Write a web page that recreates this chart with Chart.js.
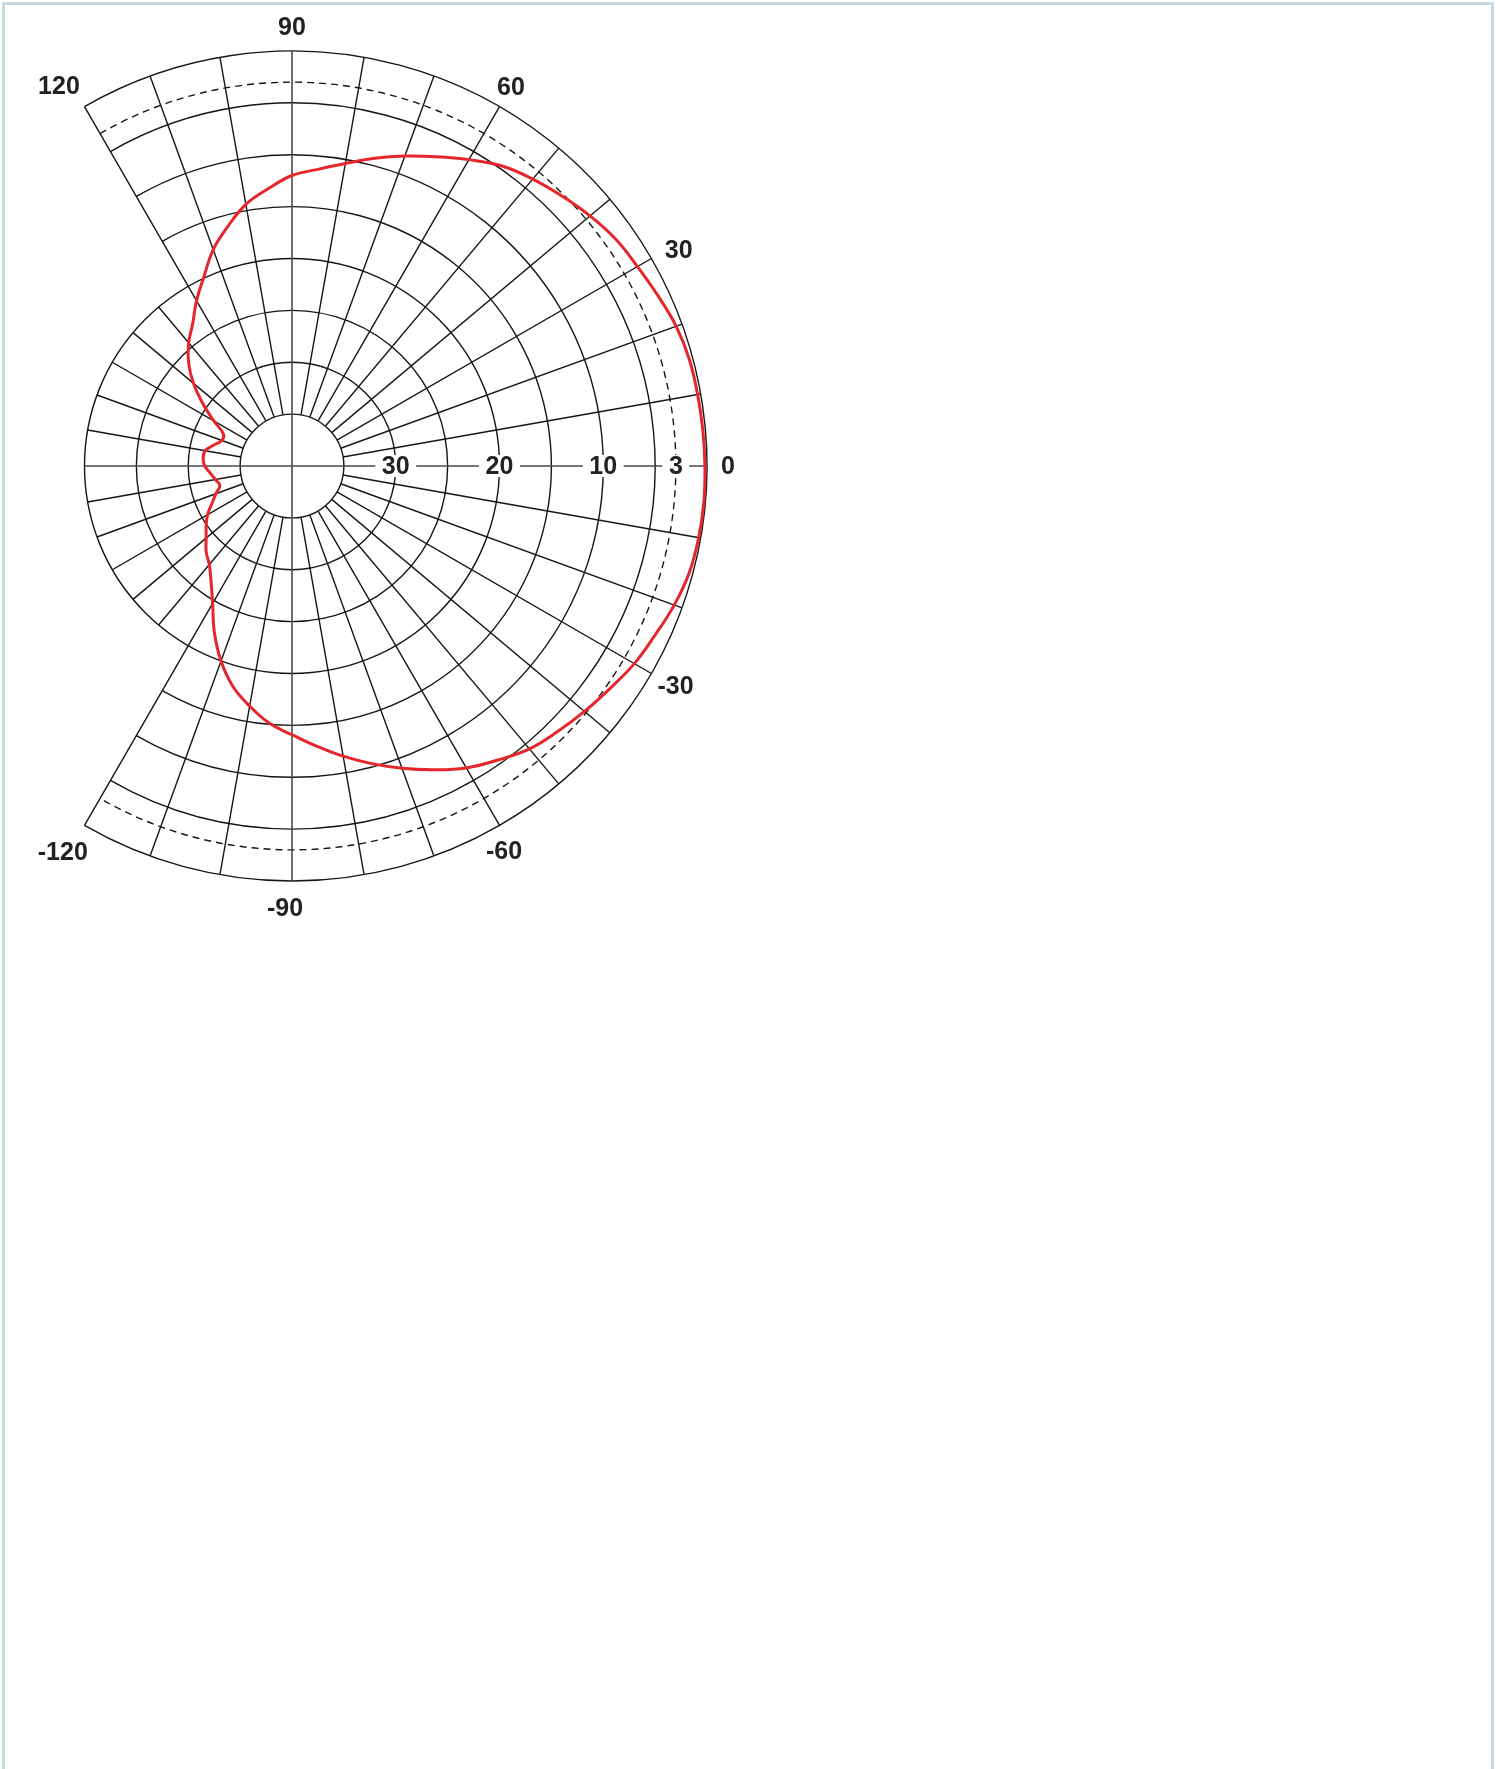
<!DOCTYPE html>
<html lang="en">
<head>
  <meta charset="UTF-8" />
  <title>Radiation pattern</title>
  <script src="https://cdn.jsdelivr.net/npm/chart.js"></script>
</head>
<style>
    html, body {
      margin: 0;
      background: #fff;
      overflow: hidden;
    }
    .frame {
      position: absolute;
      left: 2px;
      top: 2px;
      width: 1486px;
      height: 1800px;
      border: 3px solid #c9d7e0;
    }
    /* chart area is 830x830 (radius 415) centred on the pole at 292,466 */
    .wrap {
      position: absolute;
      left: -193px;
      top: -19px;
      width: 970px;
      height: 970px;
    }
  </style>
<body>
  <div class="frame"></div>
  <div class="wrap"><canvas id="grafico"></canvas></div>
  <script>
    // angle in degrees (0 = boresight, +90 up), listed clockwise from 0
    const angulos = [0, -5, -10, -15, -20, -25, -30, -35, -40, -45, -50, -55,
      -60, -65, -70, -75, -80, -85, -90, -95, -100, -105, -110, -115,
      -120, -125, -130, -135, -140, -145, -150, -155, -160, -165, -170, -175,
      180, 175, 170, 165, 160, 155, 150, 145, 140, 135, 130, 125,
      120, 115, 110, 105, 100, 95, 90, 85, 80, 75, 70, 65,
      60, 55, 50, 45, 40, 35, 30, 25, 20, 15, 10, 5];

    // relative gain in dB, same order as angulos
    const ganho = [-0.2, -0.15, -0.2, -0.35, -0.8, -1.4, -1.9, -2.6, -3.2, -3.8, -4.4, -5.4,
      -6.4, -7.7, -9.0, -10.3, -11.6, -12.9, -14.1, -15.1, -16.5, -18.0, -20.0, -22.3,
      -24.7, -26.4, -27.6, -28.3, -29.2, -29.9, -30.6, -31.5, -32.2, -32.8, -32.5, -32.1,
      -31.6, -31.4, -31.5, -32.2, -32.8, -32.7, -31.3, -29.5, -27.6, -25.9, -24.5, -23.3,
      -21.6, -19.9, -17.8, -16.1, -14.4, -13.2, -12.0, -11.3, -10.4, -9.3, -8.2, -7.1,
      -5.9, -4.7, -3.9, -3.2, -2.5, -1.9, -1.55, -1.1, -0.6, -0.35, -0.3, -0.25];

    const aneisFrente = [0, -5, -10, -15];       // only from -120 to 120
    const aneisCompletos = [-20, -25, -30, -35]; // full circles
    const anelTracejado = -3;
    const ticksRaio = [-30, -20, -10, -3];
    const rotulosAngulo = [90, 60, 30, 0, -30, -60, -90, -120, 120];

    const fonte = 'bold 25px "Liberation Sans", Arial, sans-serif';
    // where each rim label sits: [angle, distance from pole in px]
    const lugarRotulo = {
      '90': [90, 439], '60': [60, 438], '30': [29.2, 443], '0': [0, 436],
      '-30': [-29.8, 442], '-60': [-61.2, 440], '-90': [-90.9, 442],
      '-120': [-120.7, 449], '120': [121.5, 446]
    };

    const grade = {
      id: 'grade',
      beforeDatasetsDraw(chart) {
        const s = chart.scales.r;
        const ctx = chart.ctx;
        const cx = s.xCenter, cy = s.yCenter;
        const R = v => s.getDistanceFromCenterForValue(v);
        const base = s.getIndexAngle(0) - Math.PI / 2;
        const ang = d => base - d * Math.PI / 180;
        const idx = d => angulos.indexOf(d);

        ctx.save();
        ctx.strokeStyle = '#161616';
        ctx.lineWidth = 1.4;

        aneisFrente.forEach(v => {
          ctx.beginPath();
          ctx.arc(cx, cy, R(v), ang(120), ang(-120));
          ctx.stroke();
        });
        aneisCompletos.forEach(v => {
          ctx.beginPath();
          ctx.arc(cx, cy, R(v), 0, Math.PI * 2);
          ctx.stroke();
        });

        ctx.setLineDash([7, 5]);
        ctx.beginPath();
        ctx.arc(cx, cy, R(anelTracejado), ang(120), ang(-120));
        ctx.stroke();
        ctx.setLineDash([]);

        // radial lines every 10 degrees
        angulos.forEach((a, i) => {
          if (a % 10 !== 0 || a % 90 === 0) return;
          const fim = Math.abs(a) <= 120 ? 0 : -20;
          const p0 = s.getPointPosition(i, R(-35));
          const p1 = s.getPointPosition(i, R(fim));
          ctx.beginPath();
          ctx.moveTo(p0.x, p0.y);
          ctx.lineTo(p1.x, p1.y);
          ctx.stroke();
        });

        // main axes run through the pole
        ctx.strokeStyle = '#4a4a4a';
        ctx.lineWidth = 1.6;
        const eixo = (a, va, b, vb) => {
          const p0 = s.getPointPosition(idx(a), R(va));
          const p1 = s.getPointPosition(idx(b), R(vb));
          ctx.beginPath();
          ctx.moveTo(p0.x, p0.y);
          ctx.lineTo(p1.x, p1.y);
          ctx.stroke();
        };
        eixo(180, -20, 0, 0);
        eixo(90, 0, -90, 0);

        // dB labels along the boresight axis
        ctx.font = fonte;
        ctx.textAlign = 'center';
        ctx.textBaseline = 'middle';
        ticksRaio.forEach(v => {
          const p = s.getPointPosition(idx(0), R(v));
          const txt = String(-v);
          const w = ctx.measureText(txt).width + 13;
          ctx.fillStyle = '#fff';
          ctx.fillRect(p.x - w / 2, p.y - 11, w, 22);
          ctx.fillStyle = '#222';
          ctx.fillText(txt, p.x, p.y + 1);
        });

        // angle labels round the rim
        rotulosAngulo.forEach(a => {
          const [d, dist] = lugarRotulo[String(a)];
          ctx.fillStyle = '#222';
          ctx.fillText(String(a), cx + Math.cos(ang(d)) * dist, cy + Math.sin(ang(d)) * dist + 1);
        });
        ctx.restore();
      }
    };

    const ctx = document.getElementById('grafico').getContext('2d');
    new Chart(ctx, {
      type: 'radar',
      data: {
        labels: angulos,
        datasets: [{
          label: 'Ganho (dB)',
          data: ganho,
          borderColor: '#e5262b',
          borderWidth: 3,
          borderJoinStyle: 'round',
          fill: false,
          pointRadius: 0,
          pointHitRadius: 0,
          tension: 0.4
        }]
      },
      options: {
        responsive: true,
        maintainAspectRatio: false,
        animation: false,
        layout: { padding: 70 },
        plugins: {
          legend: { display: false },
          tooltip: { enabled: false }
        },
        scales: {
          r: {
            min: -40,
            max: 0,
            startAngle: 90,
            grid: { display: false },
            angleLines: { display: false },
            ticks: { display: false },
            pointLabels: { display: false }
          }
        }
      },
      plugins: [grade]
    });
  </script>
</body>
</html>
